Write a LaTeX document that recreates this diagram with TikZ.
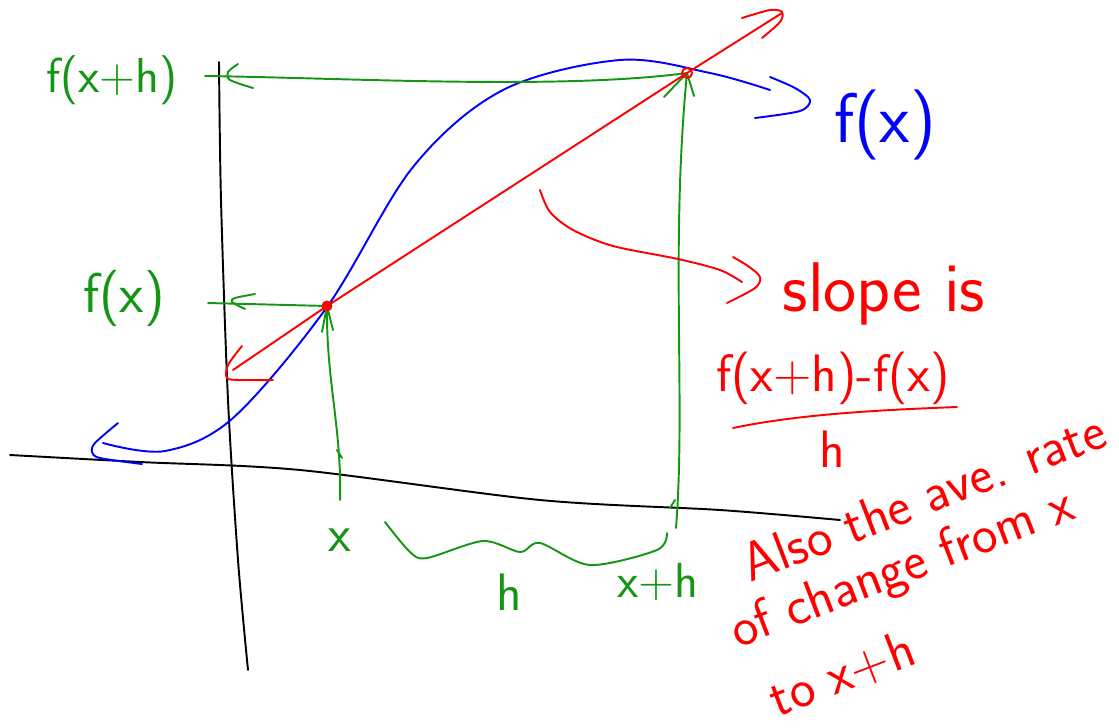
\documentclass[tikz,border=0pt]{standalone}
\definecolor{penred}{RGB}{255,0,0}
\definecolor{pengreen}{RGB}{20,150,20}
\definecolor{penblue}{RGB}{0,0,255}

\begin{document}
\begin{tikzpicture}[x=0.02cm, y=-0.02cm, line cap=round, line join=round,
    pen/.style={line width=1.1pt},
    lbl/.style={inner sep=0pt, font=\sffamily\fontsize{#1}{#1}\selectfont},
  ]
  \useasboundingbox (0,0) rectangle (1119,727);
  % The two points on the curve
  \coordinate (P) at (327,306);
  \coordinate (Q) at (687,73);
  % Axes
  \draw[pen, black] plot[smooth] coordinates {(219,62) (221,200) (228,400) (238,560) (248,670)};
  \draw[pen, black] plot[smooth] coordinates {(10,455) (140,462) (300,470) (540,500) (720,510) (840,520)};
  % Blue curve f(x)
  \draw[pen, penblue] plot[smooth, tension=0.55] coordinates {(103,443) (165,451) (233,418)
    (327,307) (413,167) (503,90) (620,60) (710,73) (770,90)};
  \draw[pen, penblue] plot[smooth] coordinates {(770,77) (795,88) (810,100) (800,111) (755,118)};
  \draw[pen, penblue] plot[smooth] coordinates {(118,423) (95,443) (92,452) (100,458) (142,464)};
  % Green projections onto the axes
  \draw[pen, pengreen] (Q) .. controls (560,90) and (350,78) .. (205,76);
  \draw[pen, pengreen] plot[smooth] coordinates {(238,64) (228,72) (230,80) (253,88)};
  \draw[pen, pengreen] (P) -- (208,303);
  \draw[pen, pengreen] plot[smooth] coordinates {(255,294) (235,298) (232,302) (245,309)};
  \draw[pen, pengreen] (P) .. controls (326,380) and (342,430) .. (340,500);
  \draw[pen, pengreen] (322,332) -- (P) -- (333,330);
  \draw[pen, pengreen] (337,450) -- (342,458);
  \draw[pen, pengreen] (Q) .. controls (670,250) and (686,400) .. (676,528);
  \draw[pen, pengreen] (664,97) -- (Q) -- (694,96);
  \draw[pen, pengreen] (670,508) -- (675,500);
  % Brace for h
  \draw[pen, pengreen] plot[smooth] coordinates {(385,522) (410,552) (427,558) (483,541) (520,552)
    (540,543) (590,565) (657,550) (667,533)};
  % Red secant line
  \draw[pen, penred] (233,370) -- (P) -- (Q) -- (782,13);
  \draw[pen, penred] plot[smooth] coordinates {(742,18) (770,10) (782,12) (780,22) (762,38)};
  \draw[pen, penred] plot[smooth] coordinates {(242,346) (228,365) (227,378) (240,380) (273,380)};
  \fill[penred] (P) circle (5.5);
  \draw[pen, penred] (Q) circle (5);
  % Arrow to the slope
  \draw[pen, penred] plot[smooth] coordinates {(540,190) (550,212) (573,230) (613,246) (678,259)
    (720,270) (742,282)};
  \draw[pen, penred] plot[smooth] coordinates {(733,257) (748,266) (760,277) (755,288) (727,303)};
  % Green labels
  \node[lbl=28, pengreen] (fxh) at (112,80) {f(x+h)};
  \node[lbl=32, pengreen] (fx) at (124,298) {f(x)};
  \node[lbl=30, pengreen] (x) at (340,540) {x};
  \node[lbl=30, pengreen] (h) at (509,592) {h};
  \node[lbl=28, pengreen] (xh) at (658,582) {x+h};
  % Blue label
  \node[lbl=40, penblue] (curve) at (885,125) {f(x)};
  % Red labels
  \node[lbl=40, penred] (slope) at (884,294) {slope is};
  \node[lbl=30, penred] (num) at (833,378) {f(x+h)-f(x)};
  \draw[pen, penred] (733,428) .. controls (800,414) and (880,410) .. (957,407);
  \node[lbl=30, penred] (den) at (832,449) {h};
  \node[lbl=31, penred, rotate=21, align=left, anchor=base west] (ave) at (766,722)
    {\hspace*{20pt}Also the ave. rate\\[1pt] of change from x\\[14pt] \hspace*{7pt}to x+h};
\end{tikzpicture}
\end{document}
